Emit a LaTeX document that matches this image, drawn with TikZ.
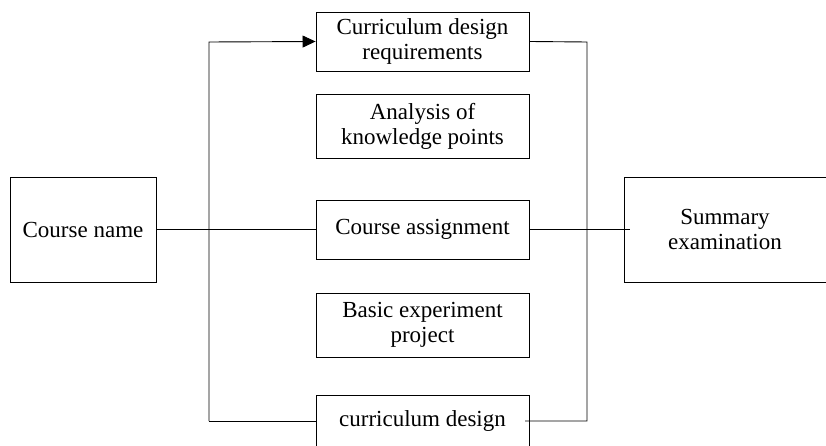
\documentclass[tikz,border=0pt]{standalone}
\usepackage{fontspec}
\setmainfont{Liberation Serif}
\usetikzlibrary{arrows.meta}
\begin{document}
\begin{tikzpicture}[x=1pt,y=-1pt,
  txt/.style={font=\fontsize{23}{25}\selectfont},
  box/.style={draw,line width=0.9pt,inner sep=0pt,align=center,txt},
  conn/.style={line width=0.9pt}]
\useasboundingbox (0,0) rectangle (826,446);
\node[box,minimum width=146pt,minimum height=105pt] (cn) at (83,229.5) {Course name};
\node[box,minimum width=213pt,minimum height=59pt] (b1) at (422.5,41.5) {Curriculum design\\requirements};
\node[box,minimum width=213pt,minimum height=64pt] (b2) at (422.5,126) {Analysis of\\knowledge points};
\node[box,minimum width=213pt,minimum height=59pt] (b3) at (422.5,229.5) {Course assignment};
\node[box,minimum width=213pt,minimum height=64pt] (b4) at (422.5,325) {Basic experiment\\project};
\coordinate (b5nw) at (316,395);
\coordinate (b5ne) at (529,395);
\draw[conn] (316,446) -- (b5nw) -- (b5ne) -- (529,446);
\node[txt] (b5) at (422.5,421) {curriculum design};
\coordinate (snw) at (624,177);
\draw[conn] (830,177) -- (snw) -- (624,282) -- (830,282);
\node[align=center,txt] (sum) at (725,229.5) {Summary\\examination};
\coordinate (lt) at (209,42);
\coordinate (lb) at (209,421);
\coordinate (rt) at (587,42);
\coordinate (rb) at (587,421);
\coordinate (se) at (630,229.5);
\draw[conn] (cn.east) -- (b3.west);
\draw[conn,-{Triangle[length=13pt,width=12pt]}] (lb) -- (lt) -- (b1.west);
\draw[conn] (lb) -- (316,421);
\draw[conn] (b1.east) -- (rt) -- (rb) -- (525,421);
\draw[conn] (b3.east) -- (se);
\end{tikzpicture}
\end{document}
